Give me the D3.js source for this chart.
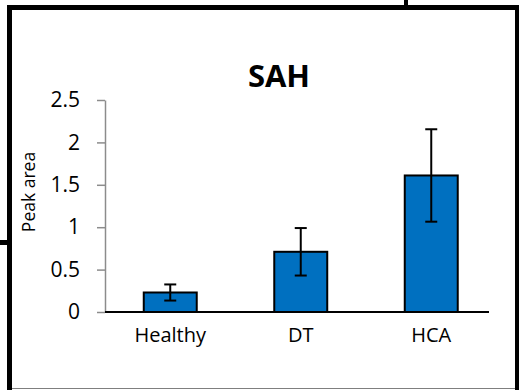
<!DOCTYPE html>
<html>
<head>
<meta charset="utf-8">
<script src="https://cdn.jsdelivr.net/npm/d3@7"></script>
<style>
  html, body { margin: 0; padding: 0; background: #fff; }
  svg { display: block; }
  text { font-family: "Open Sans", "Liberation Sans", sans-serif; fill: #000; }
</style>
</head>
<body>
<svg id="chart" width="519" height="390"></svg>
<script>
// Peak area per group, with standard-deviation error bars
const categories = ["Healthy", "DT", "HCA"];
const peakArea   = [0.23, 0.71, 1.61];
const errorSize  = [0.095, 0.28, 0.545];
const yTicks     = [0, 0.5, 1, 1.5, 2, 2.5];
const yTickLabels = ["0", "0.5", "1", "1.5", "2", "2.5"];
const chartTitle = "SAH";
const yAxisTitle = "Peak area";

const W = 519, H = 390;
const plot = { left: 105, right: 496.5, top: 100, bottom: 312, axisEnd: 489 };

const svg = d3.select("#chart");

// Chart-area frame
const frame = svg.append("g");
frame.append("rect").attr("x", 7).attr("y", 5).attr("width", 5).attr("height", H - 5).attr("fill", "#000");
frame.append("rect").attr("x", 7).attr("y", 5).attr("width", W - 7).attr("height", 5).attr("fill", "#000");
frame.append("rect").attr("x", 515).attr("y", 5).attr("width", 4).attr("height", H - 5).attr("fill", "#000");
frame.append("line").attr("x1", 12).attr("x2", 515).attr("y1", 388.5).attr("y2", 388.5)
  .attr("stroke", "#7f7f7f").attr("stroke-width", 1);
frame.append("rect").attr("x", 404).attr("y", 0).attr("width", 4).attr("height", 6).attr("fill", "#000");
frame.append("rect").attr("x", 0).attr("y", 240).attr("width", 8).attr("height", 5).attr("fill", "#000");

const x = d3.scaleBand()
  .domain(categories)
  .range([plot.left, plot.right])
  .paddingInner(0.594)
  .paddingOuter(0.297);

const y = d3.scaleLinear().domain([0, 2.5]).range([plot.bottom, plot.top]);

// Y axis
const yAxis = d3.axisLeft(y)
  .tickValues(yTicks)
  .tickFormat((d, i) => yTickLabels[i])
  .tickSize(8)
  .tickSizeOuter(0)
  .tickPadding(17);

const gy = svg.append("g").attr("transform", `translate(${plot.left},0)`).call(yAxis);
gy.select(".domain").attr("stroke", "#8c8c8c").attr("stroke-width", 1.5);
gy.selectAll(".tick line").attr("stroke", "#8c8c8c").attr("stroke-width", 1.5);
gy.selectAll(".tick text")
  .attr("font-size", 21)
  .attr("font-family", "'Open Sans', sans-serif")
  .attr("fill", "#000");

// Bars
const rows = categories.map((c, i) => ({ c, v: peakArea[i], e: errorSize[i] }));

svg.append("g").selectAll("rect").data(rows).join("rect")
  .attr("x", d => x(d.c))
  .attr("y", d => y(d.v))
  .attr("width", x.bandwidth())
  .attr("height", d => y(0) - y(d.v))
  .attr("fill", "#0070C0")
  .attr("stroke", "#000")
  .attr("stroke-width", 2);

// Category baseline
svg.append("line")
  .attr("x1", plot.left).attr("x2", plot.axisEnd)
  .attr("y1", y(0)).attr("y2", y(0))
  .attr("stroke", "#000").attr("stroke-width", 2);

// Error bars
const eb = svg.append("g").attr("stroke", "#000").attr("stroke-width", 2);
const cap = 6;
rows.forEach(d => {
  const cx = x(d.c) + x.bandwidth() / 2;
  eb.append("line").attr("x1", cx).attr("x2", cx).attr("y1", y(d.v + d.e)).attr("y2", y(d.v - d.e));
  eb.append("line").attr("x1", cx - cap).attr("x2", cx + cap).attr("y1", y(d.v + d.e)).attr("y2", y(d.v + d.e));
  eb.append("line").attr("x1", cx - cap).attr("x2", cx + cap).attr("y1", y(d.v - d.e)).attr("y2", y(d.v - d.e));
});

// Category labels
svg.append("g").selectAll("text").data(categories).join("text")
  .attr("x", d => x(d) + x.bandwidth() / 2)
  .attr("y", 342)
  .attr("text-anchor", "middle")
  .attr("font-size", 20)
  .text(d => d);

// Title
svg.append("text")
  .attr("x", 279).attr("y", 87)
  .attr("text-anchor", "middle")
  .attr("font-size", 31)
  .attr("font-weight", "bold")
  .text(chartTitle);

// Y-axis title
svg.append("text")
  .attr("transform", `translate(35,${(plot.top + plot.bottom) / 2 - 14}) rotate(-90)`)
  .attr("text-anchor", "middle")
  .attr("font-size", 17.5)
  .text(yAxisTitle);
</script>
</body>
</html>
